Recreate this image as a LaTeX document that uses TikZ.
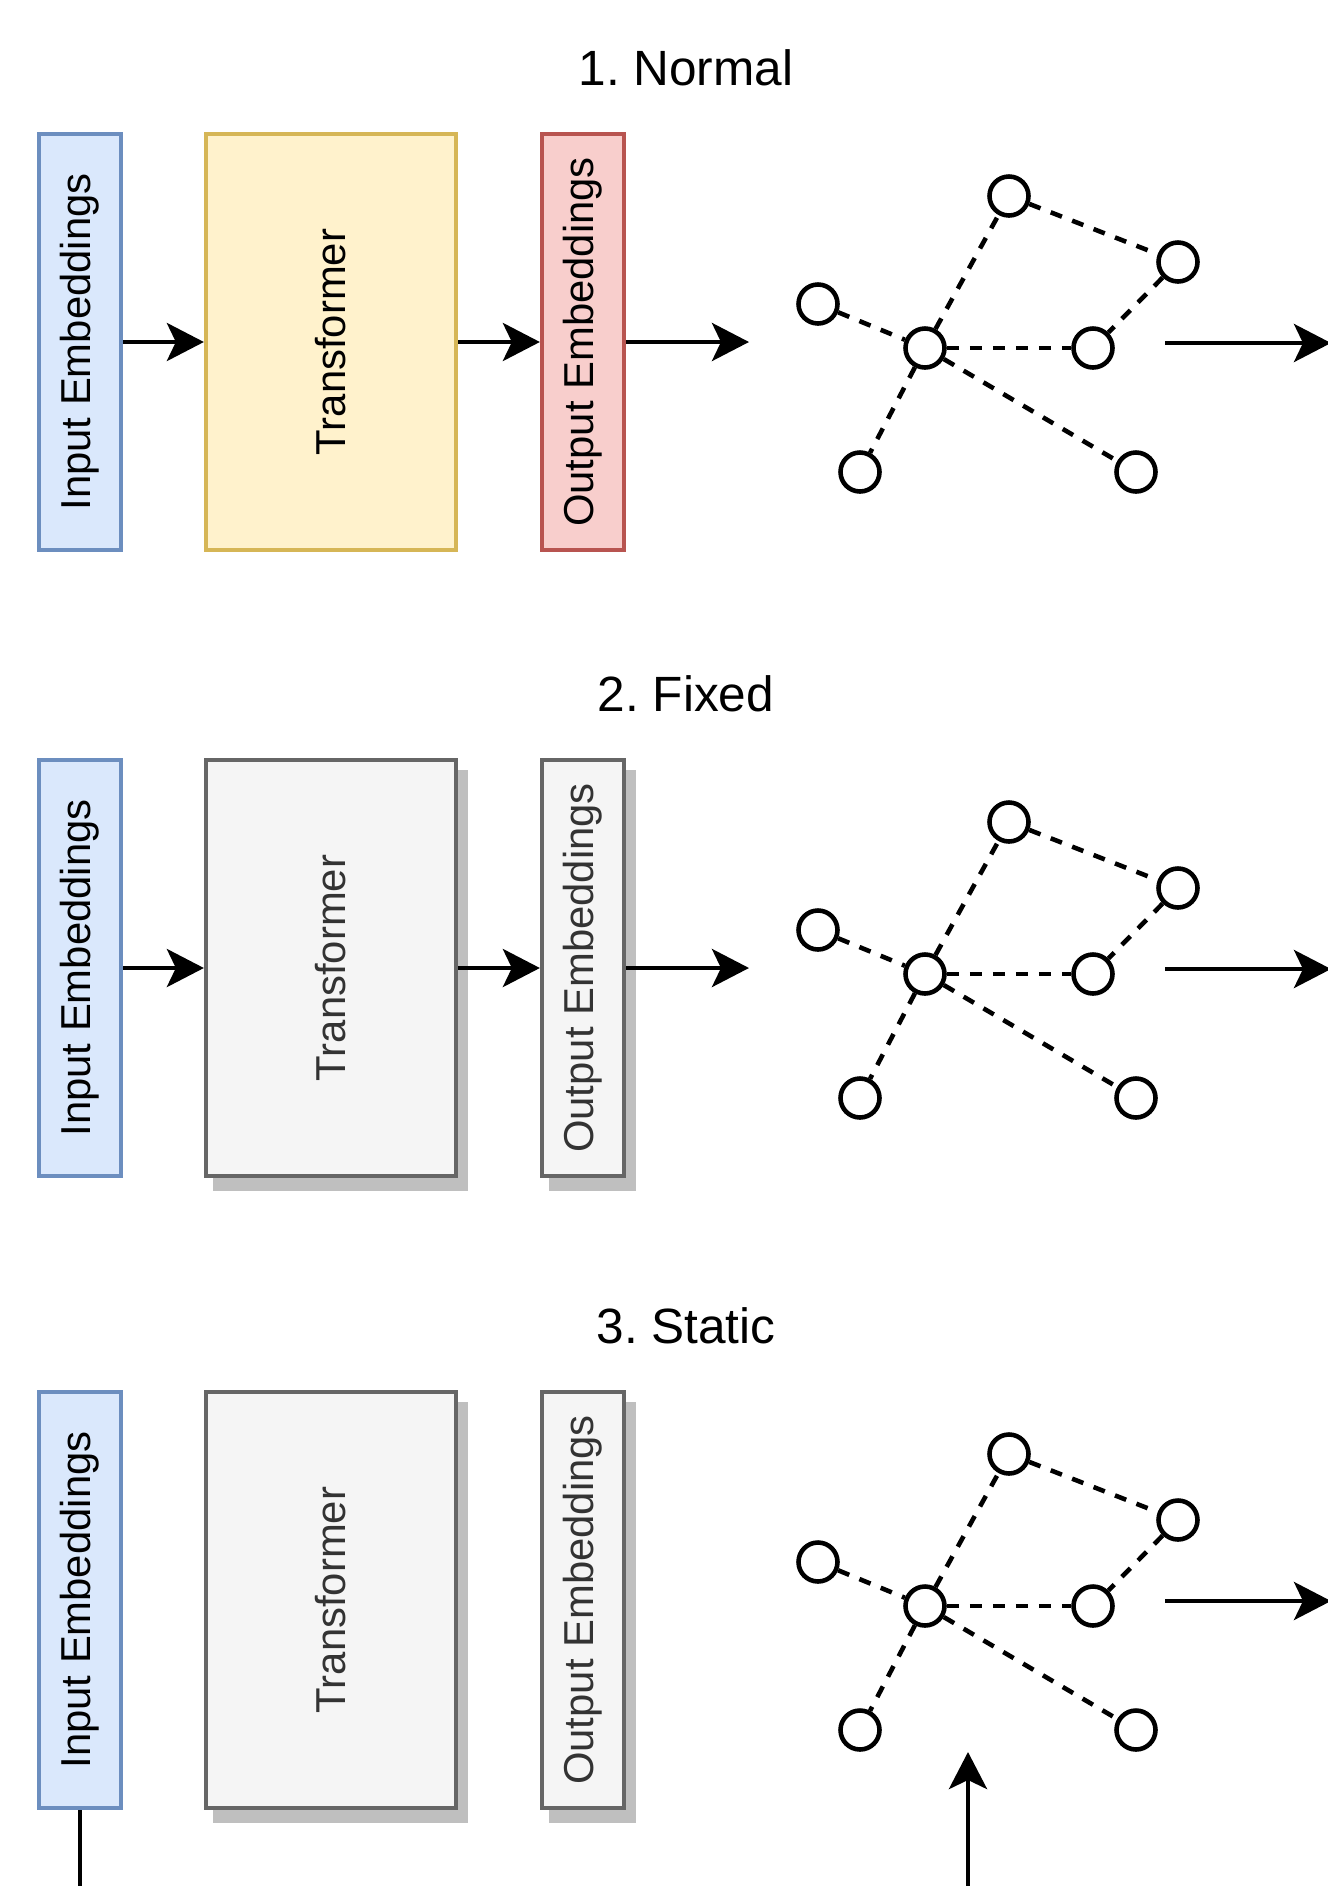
\documentclass[tikz,border=0pt]{standalone}
\usepackage{fontspec}
\setmainfont{Liberation Sans}
\usepackage{xcolor}
\usepackage{tikz}
\usetikzlibrary{arrows.meta,shapes,positioning,shadows}
\frenchspacing

\definecolor{inblue}{HTML}{DAE8FC}
\definecolor{inbluedraw}{HTML}{6C8EBF}
\definecolor{tryellow}{HTML}{FFF2CC}
\definecolor{tryellowdraw}{HTML}{D6B656}
\definecolor{outred}{HTML}{F8CECC}
\definecolor{outreddraw}{HTML}{B85450}
\definecolor{greyfill}{HTML}{F5F5F5}
\definecolor{greydraw}{HTML}{666666}
\definecolor{greytext}{HTML}{333333}
\definecolor{shadowgrey}{HTML}{BFBFBF}

\begin{document}
\begin{tikzpicture}[
  box/.style={draw, rectangle, line width=2.4pt, minimum height=8.32cm, inner sep=0pt,
    font=\fontsize{23.8pt}{28pt}\selectfont},
  inbox/.style={box, fill=inblue, draw=inbluedraw, minimum width=1.64cm},
  trbox/.style={box, fill=tryellow, draw=tryellowdraw, minimum width=5.0cm},
  outbox/.style={box, fill=outred, draw=outreddraw, minimum width=1.64cm},
  frozen/.style={fill=greyfill, draw=greydraw, text=greytext,
    drop shadow={shadow xshift=0.19cm, shadow yshift=-0.25cm, fill=shadowgrey, draw=shadowgrey, opacity=1}},
  title/.style={font=\fontsize{28.2pt}{34pt}\selectfont},
  gnode/.style={draw, circle, line width=2.6pt, minimum size=0.78cm, inner sep=0pt},
  edge/.style={line width=2.6pt, dash pattern=on 0.24cm off 0.22cm},
  arr/.style={line width=2.6pt, -{Stealth[length=0.74cm, width=0.76cm, inset=0.18cm]}},
  line/.style={line width=2.6pt}
]
\useasboundingbox (0,0) rectangle (26.56,-37.72);

% 1. Normal
\node[title] (title1) at (13.72,-1.36) {1. Normal};
\node[inbox] (inemb1) at (1.60,-6.84) {\rotatebox{90}{Input Embeddings}};
\node[trbox] (transf1) at (6.62,-6.84) {\rotatebox{90}{Transformer}};
\node[outbox] (outemb1) at (11.66,-6.84) {\rotatebox{90}{Output Embeddings}};
\coordinate (gin1) at (14.98,-6.84);

\node[gnode] (top1) at (20.18,-3.92) {};
\node[gnode] (rtop1) at (23.56,-5.24) {};
\node[gnode] (left1) at (16.36,-6.08) {};
\node[gnode] (hub1) at (18.50,-6.96) {};
\node[gnode] (mid1) at (21.86,-6.96) {};
\node[gnode] (bl1) at (17.20,-9.44) {};
\node[gnode] (br1) at (22.72,-9.44) {};
\coordinate (gout1) at (23.30,-6.86);
\coordinate (gend1) at (26.62,-6.86);

\draw[arr] (inemb1) -- (transf1);
\draw[arr] (transf1) -- (outemb1);
\draw[arr] (outemb1) -- (gin1);
\draw[edge] (hub1) -- (top1);
\draw[edge] (top1) -- (rtop1);
\draw[edge] (rtop1) -- (mid1);
\draw[edge] (left1) -- (hub1);
\draw[edge] (hub1) -- (mid1);
\draw[edge] (hub1) -- (bl1);
\draw[edge] (hub1) -- (br1);
\draw[arr] (gout1) -- (gend1);

% 2. Fixed
\node[title] (title2) at (13.72,-13.88) {2. Fixed};
\node[inbox] (inemb2) at (1.60,-19.36) {\rotatebox{90}{Input Embeddings}};
\node[trbox, frozen] (transf2) at (6.62,-19.36) {\rotatebox{90}{Transformer}};
\node[outbox, frozen] (outemb2) at (11.66,-19.36) {\rotatebox{90}{Output Embeddings}};
\coordinate (gin2) at (14.98,-19.36);

\node[gnode] (top2) at (20.18,-16.44) {};
\node[gnode] (rtop2) at (23.56,-17.76) {};
\node[gnode] (left2) at (16.36,-18.60) {};
\node[gnode] (hub2) at (18.50,-19.48) {};
\node[gnode] (mid2) at (21.86,-19.48) {};
\node[gnode] (bl2) at (17.20,-21.96) {};
\node[gnode] (br2) at (22.72,-21.96) {};
\coordinate (gout2) at (23.30,-19.38);
\coordinate (gend2) at (26.62,-19.38);

\draw[arr] (inemb2) -- (transf2);
\draw[arr] (transf2) -- (outemb2);
\draw[arr] (outemb2) -- (gin2);
\draw[edge] (hub2) -- (top2);
\draw[edge] (top2) -- (rtop2);
\draw[edge] (rtop2) -- (mid2);
\draw[edge] (left2) -- (hub2);
\draw[edge] (hub2) -- (mid2);
\draw[edge] (hub2) -- (bl2);
\draw[edge] (hub2) -- (br2);
\draw[arr] (gout2) -- (gend2);

% 3. Static
\node[title] (title3) at (13.72,-26.52) {3. Static};
\node[inbox] (inemb3) at (1.60,-32.00) {\rotatebox{90}{Input Embeddings}};
\node[trbox, frozen] (transf3) at (6.62,-32.00) {\rotatebox{90}{Transformer}};
\node[outbox, frozen] (outemb3) at (11.66,-32.00) {\rotatebox{90}{Output Embeddings}};

\node[gnode] (top3) at (20.18,-29.08) {};
\node[gnode] (rtop3) at (23.56,-30.40) {};
\node[gnode] (left3) at (16.36,-31.24) {};
\node[gnode] (hub3) at (18.50,-32.12) {};
\node[gnode] (mid3) at (21.86,-32.12) {};
\node[gnode] (bl3) at (17.20,-34.60) {};
\node[gnode] (br3) at (22.72,-34.60) {};
\coordinate (gout3) at (23.30,-32.02);
\coordinate (gend3) at (26.62,-32.02);
\coordinate (down3) at (1.60,-37.90);
\coordinate (upfoot3) at (19.36,-37.90);
\coordinate (uptip3) at (19.36,-35.04);

\draw[edge] (hub3) -- (top3);
\draw[edge] (top3) -- (rtop3);
\draw[edge] (rtop3) -- (mid3);
\draw[edge] (left3) -- (hub3);
\draw[edge] (hub3) -- (mid3);
\draw[edge] (hub3) -- (bl3);
\draw[edge] (hub3) -- (br3);
\draw[arr] (gout3) -- (gend3);
\draw[line] (inemb3) -- (down3);
\draw[arr] (upfoot3) -- (uptip3);
\end{tikzpicture}
\end{document}
